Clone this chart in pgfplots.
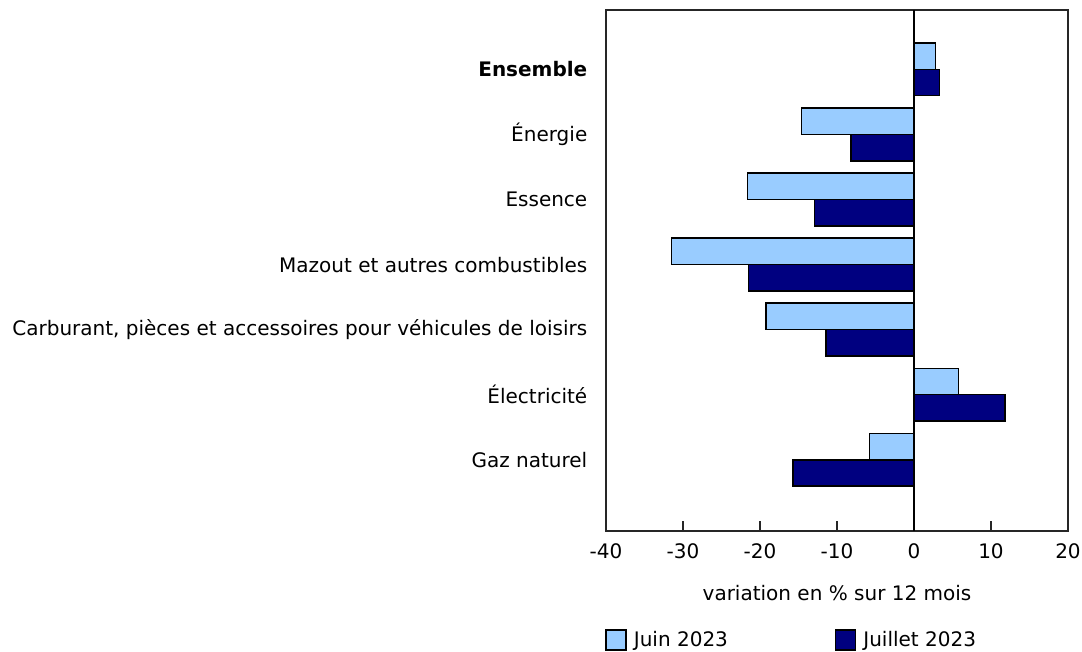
\documentclass[border=0pt]{standalone}
\usepackage{fontspec}
\setmainfont{DejaVu Sans}
\usepackage{pgfplots}
\pgfplotsset{compat=1.18}
\definecolor{juin}{HTML}{99CCFF}
\definecolor{juil}{HTML}{000080}
\begin{document}
\begin{tikzpicture}[x=1pt,y=1pt]
\useasboundingbox (0,0) rectangle (811.5,489);
\begin{axis}[
  at={(454.5pt,90.75pt)}, anchor=south west,
  scale only axis, width=346.5pt, height=390.75pt,
  xbar=0pt, bar width=0.405,
  xmin=-40, xmax=20, ymin=-0.912, ymax=7.095, y dir=reverse,
  xtick={-40,-30,...,20}, xticklabels={-40,-30,-20,-10,0,10,20},
  ytick={0,...,6},
  yticklabels={\textbf{Ensemble},Énergie,Essence,Mazout et autres combustibles,{Carburant, pièces et accessoires pour véhicules de loisirs},Électricité,Gaz naturel},
  major tick length=7.5pt, tick align=inside, xtick pos=bottom,
  ytick style={draw=none},
  axis line style={draw=black!85, line width=1.1pt},
  xtick style={draw=black!85, line width=1pt},
  tick label style={font=\fontsize{15}{18}\selectfont},
  yticklabel style={xshift=-10.5pt},
  xticklabel style={yshift=-6pt},
  xlabel={variation en \% sur 12 mois},
  xlabel style={font=\fontsize{15}{18}\selectfont, yshift=-12.8pt},
  legend style={at={(-0.011,-0.209)}, anchor=west, draw=none, fill=none,
    font=\fontsize{15}{18}\selectfont, legend columns=2,
    /tikz/every even column/.append style={column sep=78pt}},
  legend cell align=left,
]
\draw[black, line width=0.8pt] (axis cs:0,-0.912) -- (axis cs:0,7.095);
\addplot[fill=juin, draw=black, line width=1.2pt,
  legend image code/.code={\draw[fill=juin,draw=black,line width=1.1pt] (0pt,-7.5pt) rectangle (15pt,7.5pt); \path[draw=none,fill=none] (0pt,0pt) -- (19pt,0pt);}]
  coordinates {(2.8,0) (-14.6,1) (-21.6,2) (-31.5,3) (-19.2,4) (5.8,5) (-5.8,6)};
\addlegendentry{Juin 2023}
\addplot[fill=juil, draw=black, line width=1.2pt,
  legend image code/.code={\draw[fill=juil,draw=black,line width=1.1pt] (0pt,-7.5pt) rectangle (15pt,7.5pt); \path[draw=none,fill=none] (0pt,0pt) -- (19pt,0pt);}]
  coordinates {(3.3,0) (-8.2,1) (-12.9,2) (-21.5,3) (-11.4,4) (11.8,5) (-15.7,6)};
\addlegendentry{Juillet 2023}
\end{axis}
\end{tikzpicture}
\end{document}
